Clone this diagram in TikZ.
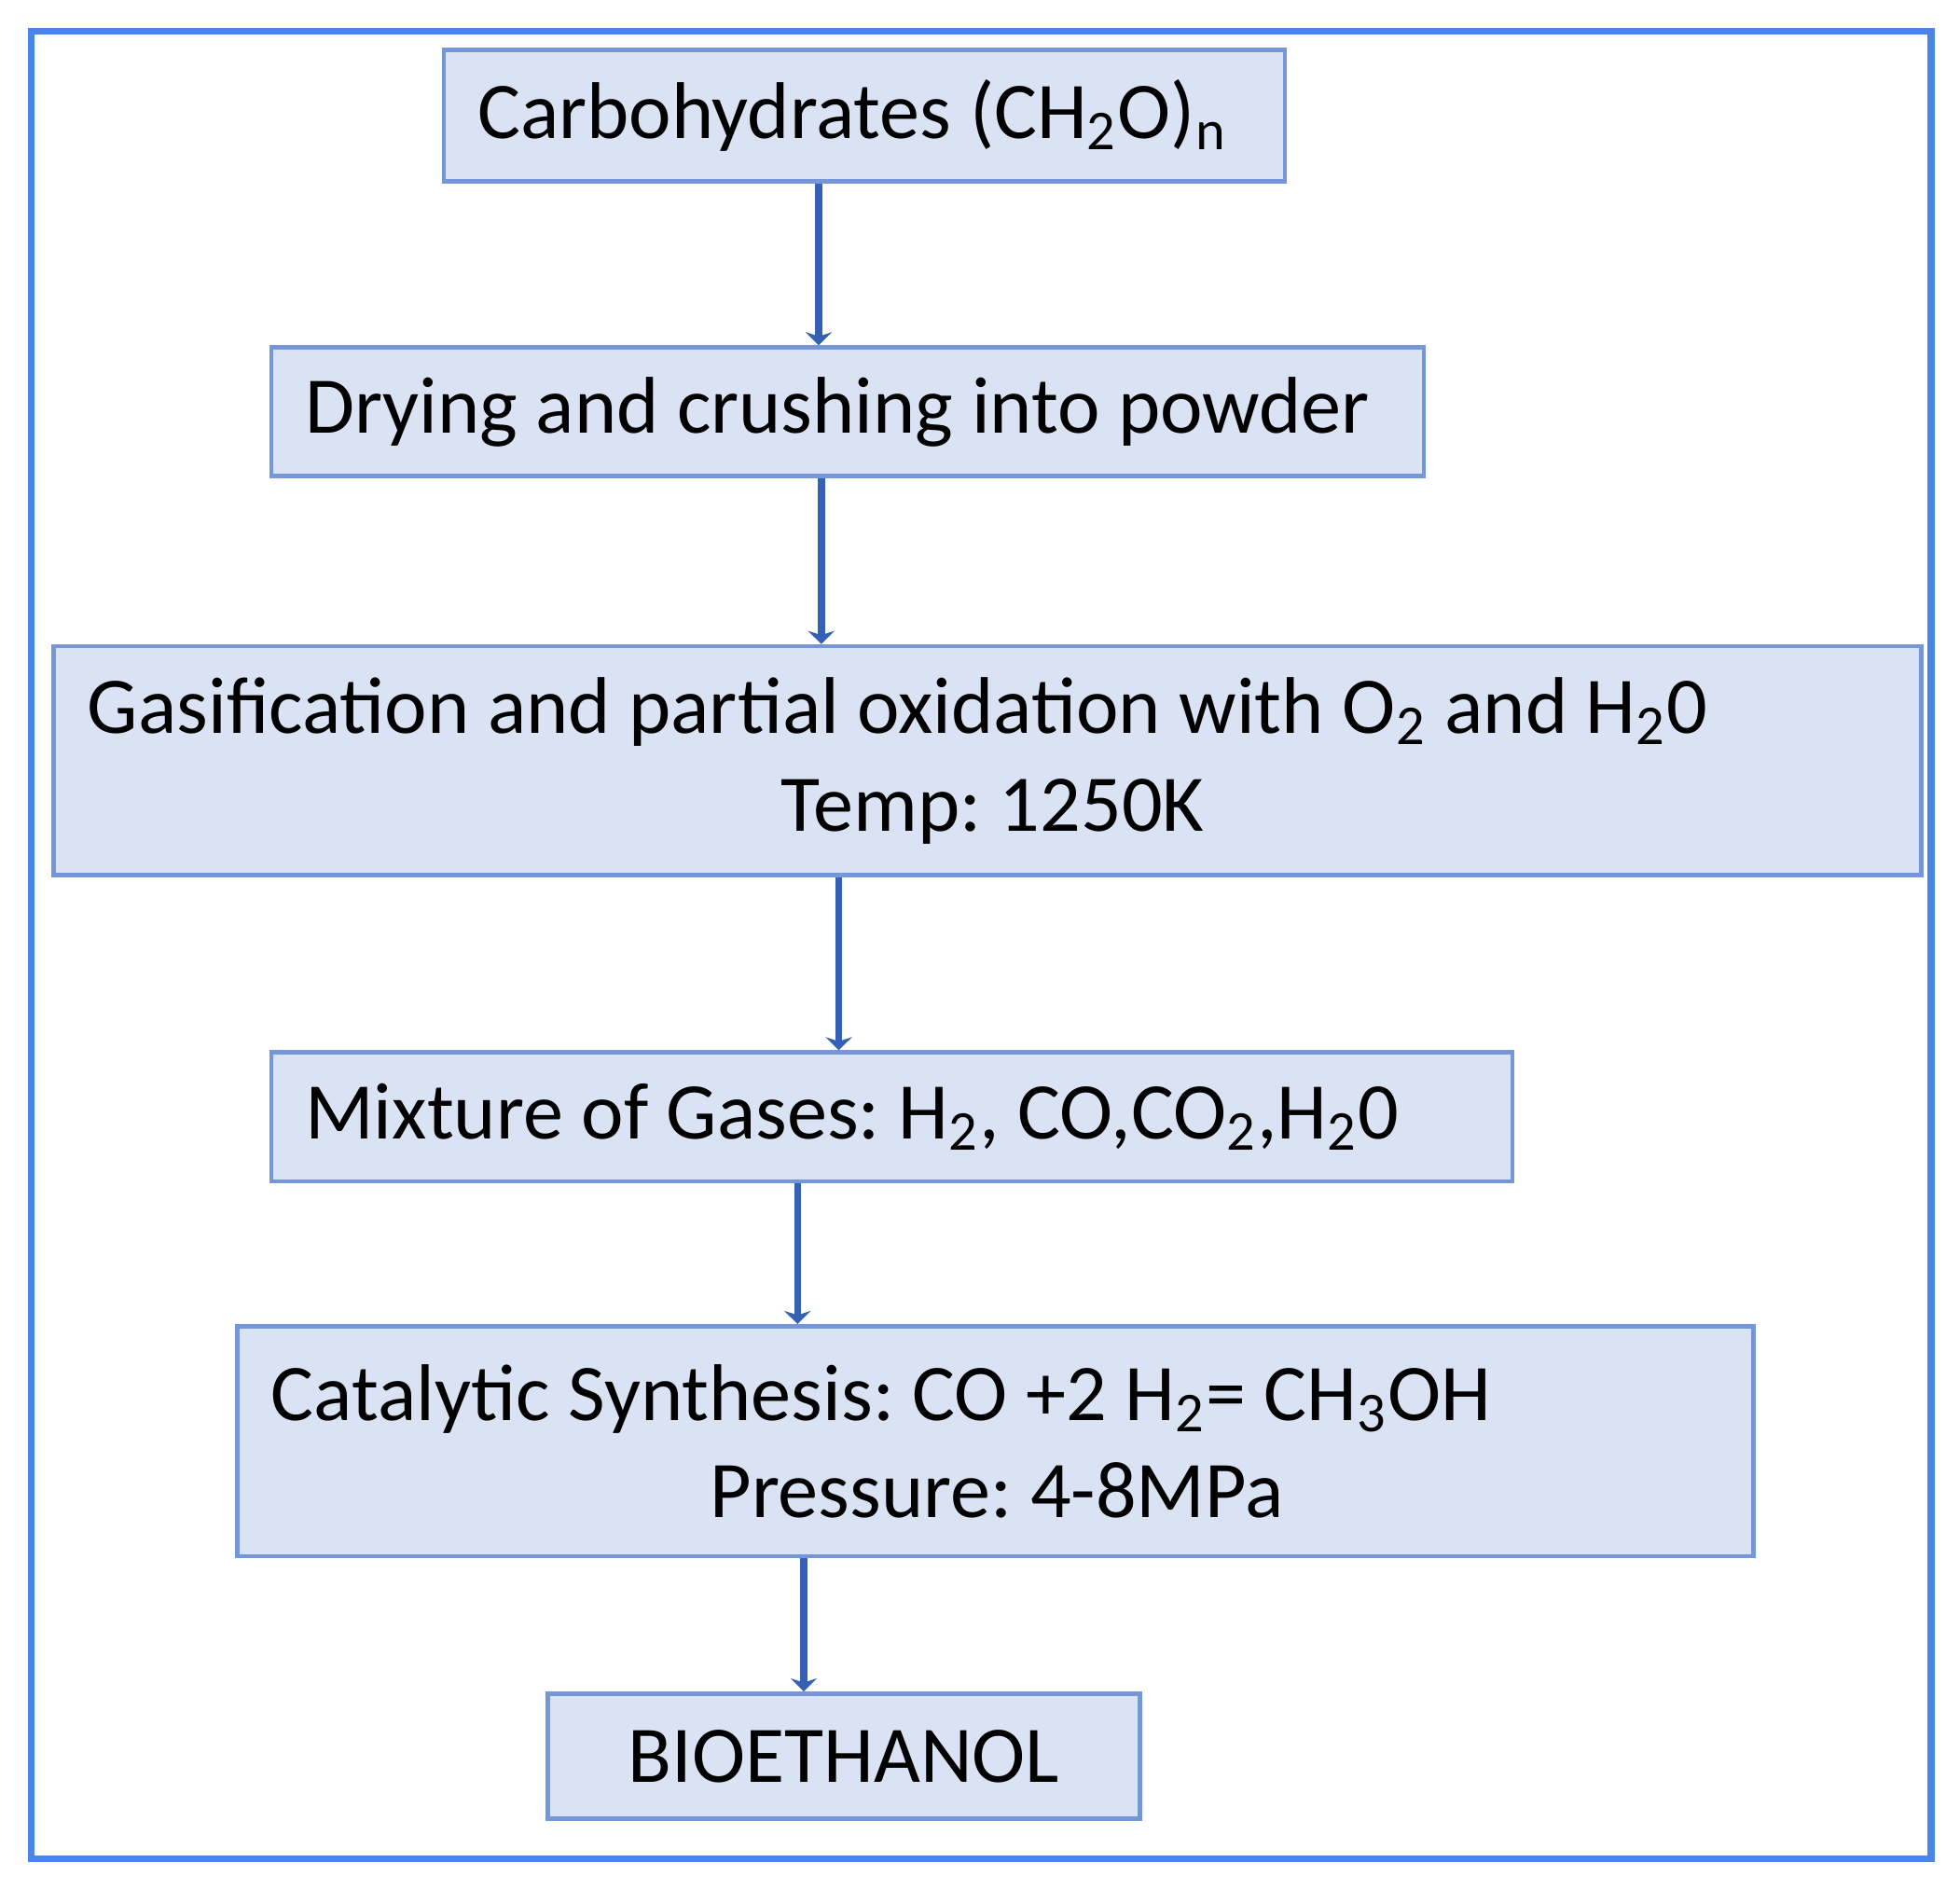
\documentclass[tikz,border=0pt]{standalone}
\usepackage{fontspec}
\setmainfont{Carlito}
\usepackage{xcolor}
\usepackage{tikz}
\usetikzlibrary{arrows.meta, positioning, calc}
\definecolor{framec}{HTML}{4A86E8}
\definecolor{boxfill}{HTML}{DAE3F3}
\definecolor{boxedge}{HTML}{7597D8}
\definecolor{flowc}{HTML}{3461B3}
\tikzset{
>={Stealth[length=3pt,width=6pt]},
text=black,
stage/.style={%
    rectangle,
    draw=boxedge,
    fill=boxfill,
    line width=1pt,
    inner xsep=2.7mm,
    inner ysep=0pt,
    align=flush left,
    % Font
    font=\fontsize{18.3}{22.2}\selectfont\frenchspacing
},
flow/.style={->, draw=flowc, line width=1.6pt},
frame/.style={draw=framec, line width=1.6pt},
}

\begin{document}
\begin{tikzpicture}
	\useasboundingbox (0,0) rectangle (15.68,-15.12);
	\draw[frame] (0.25,-0.25) rectangle (15.45,-14.87);

	\node[stage, text width=6.19cm, minimum height=1.05cm] at (6.915,-0.925) (carb)
		{Carbohydrates (CH\textsubscript{2}O)\textsubscript{n}};
	\node[stage, text width=8.68cm, minimum height=1.03cm] at (6.78,-3.295) (dry)
		{Drying and crushing into powder};
	\node[stage, text width=14.40cm, minimum height=1.83cm] at (7.90,-6.085) (gas)
		{Gasification and partial oxidation with O\textsubscript{2} and H\textsubscript{2}0\\
		\hspace*{5.55cm}Temp: 1250K};
	\node[stage, text width=9.39cm, minimum height=1.03cm] at (7.135,-8.935) (mix)
		{Mixture of Gases: H\textsubscript{2}, CO,CO\textsubscript{2},H\textsubscript{2}0};
	\node[stage, text width=11.59cm, minimum height=1.84cm] at (7.965,-11.53) (cat)
		{Catalytic Synthesis: CO +2 H\textsubscript{2}= CH\textsubscript{3}OH\\
		\hspace*{3.51cm}Pressure: 4-8MPa};
	\node[stage, text width=4.20cm, align=center, minimum height=1.00cm] at (6.75,-14.05) (bio)
		{BIOETHANOL};

	% arrow columns
	\coordinate (a1) at (6.55,0);
	\coordinate (a2) at (6.57,0);
	\coordinate (a3) at (6.71,0);
	\coordinate (a4) at (6.38,0);
	\coordinate (a5) at (6.43,0);

	\draw[flow] (carb.south -| a1) -- (dry.north -| a1);
	\draw[flow] (dry.south -| a2) -- (gas.north -| a2);
	\draw[flow] (gas.south -| a3) -- (mix.north -| a3);
	\draw[flow] (mix.south -| a4) -- (cat.north -| a4);
	\draw[flow] (cat.south -| a5) -- (bio.north -| a5);

\end{tikzpicture}
\end{document}
